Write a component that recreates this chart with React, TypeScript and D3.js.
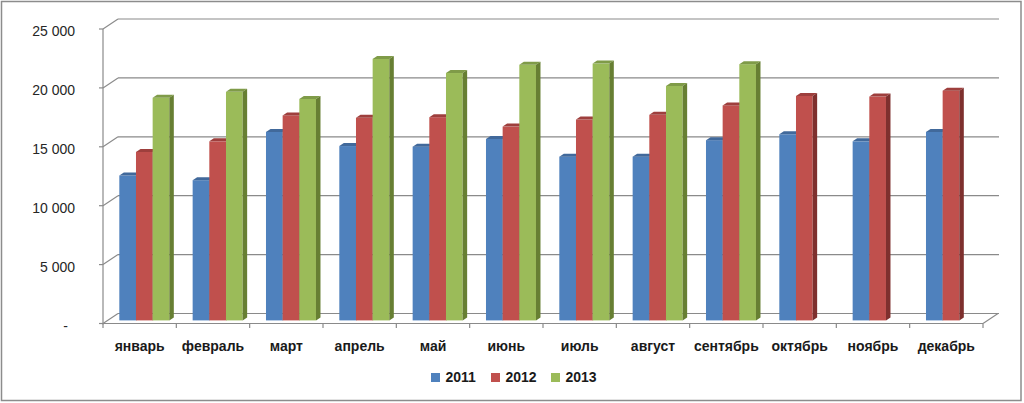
import React from "react";
import * as d3 from "d3";

const categories = ["январь", "февраль", "март", "апрель", "май", "июнь", "июль", "август", "сентябрь", "октябрь", "ноябрь", "декабрь"];
const seriesNames = ["2011", "2012", "2013"];
const values2011 = [12300, 11900, 16000, 14800, 14750, 15400, 13900, 13900, 15300, 15800, 15200, 16000];
const values2012 = [14300, 15200, 17400, 17200, 17250, 16450, 17050, 17450, 18250, 19050, 19000, 19500];
const values2013: (number | null)[] = [18900, 19400, 18800, 22200, 21000, 21700, 21800, 19900, 21750, null, null, null];
const yTicks = [0, 5000, 10000, 15000, 20000, 25000];

const frontColors = ["#4F81BD", "#C0504D", "#9BBB59"];
const topColors = ["#41699B", "#9E3F3D", "#7F9B48"];
const sideColors = ["#375D8B", "#7E302E", "#677F33"];

const W = 1024;
const H = 403;
const DX = 15; // depth offset x
const DY = -10; // depth offset y
const Z0 = 0.31;
const Z1 = 0.61;
const GRID = "#8a8a8a";
const FONT = "'Liberation Sans', Arial, sans-serif";

export default function App() {
  const allSeries = [values2011, values2012, values2013];
  const x = d3.scaleBand<string>().domain(categories).range([103, 983]).padding(0);
  const xs = d3.scaleBand<string>().domain(seriesNames).range([0, x.bandwidth()]).paddingInner(0).paddingOuter(0.7);
  const y = d3.scaleLinear().domain([0, 25000]).range([323.5, 29]);
  const fmt = (v: number) => (v === 0 ? "-" : d3.format(",")(v).replace(/,/g, " "));

  const bars: JSX.Element[] = [];
  categories.forEach((c, ci) => {
    allSeries.forEach((vals, si) => {
      const v = vals[ci];
      if (v == null) return;
      const x0 = (x(c) as number) + (xs(seriesNames[si]) as number) + Z0 * DX;
      const x1 = x0 + xs.bandwidth();
      const base = y(0) + Z0 * DY;
      const top = base - (y(0) - y(v));
      const ddx = (Z1 - Z0) * DX;
      const ddy = (Z1 - Z0) * DY;
      bars.push(
        <g key={`${ci}-${si}`}>
          <rect x={x0} y={top} width={x1 - x0} height={base - top} fill={frontColors[si]} />
          <polygon
            points={`${x0},${top} ${x1},${top} ${x1 + ddx},${top + ddy} ${x0 + ddx},${top + ddy}`}
            fill={topColors[si]}
          />
          <polygon
            points={`${x1},${top} ${x1 + ddx},${top + ddy} ${x1 + ddx},${base + ddy} ${x1},${base}`}
            fill={sideColors[si]}
          />
        </g>
      );
    });
  });

  return (
    <svg width={W} height={H} style={{ position: "absolute", left: 0, top: 0 }}>
      <rect x={0} y={0} width={W} height={H} fill="#fff" />
      <rect x={1.5} y={1.5} width={1019.5} height={399} fill="none" stroke="#8c8c8c" strokeWidth={1.5} />
      {/* back wall gridlines + left wall diagonals */}
      {yTicks.map((t) => (
        <g key={t}>
          <line x1={103 + DX} x2={983 + DX + 1} y1={y(t) + DY} y2={y(t) + DY} stroke={GRID} strokeWidth={1.2} />
          <line x1={103} x2={103 + DX} y1={y(t)} y2={y(t) + DY} stroke={GRID} strokeWidth={1.2} />
          <line x1={99} x2={103} y1={y(t)} y2={y(t)} stroke={GRID} strokeWidth={1.2} />
          <text
            x={t === 0 ? 68 : 75}
            y={y(t) + 7}
            textAnchor="end"
            fontFamily={FONT}
            fontSize={14}
            fill="#262626"
          >
            {fmt(t)}
          </text>
        </g>
      ))}
      {/* left axis */}
      <line x1={103} x2={103} y1={y(25000)} y2={y(0) + 1} stroke={GRID} strokeWidth={1.2} />
      {/* floor front & right edge */}
      <line x1={103} x2={983} y1={y(0)} y2={y(0)} stroke={GRID} strokeWidth={1.2} />
      <line x1={983} x2={983 + DX} y1={y(0)} y2={y(0) + DY} stroke={GRID} strokeWidth={1.2} />
      {categories.map((c, i) => (
        <line key={c} x1={(x(c) as number) + x.bandwidth()} x2={(x(c) as number) + x.bandwidth()} y1={y(0)} y2={y(0) + 4.5} stroke={GRID} strokeWidth={1.2} />
      ))}
      <line x1={103} x2={103} y1={y(0)} y2={y(0) + 4.5} stroke={GRID} strokeWidth={1.2} />
      {bars}
      {categories.map((c) => (
        <text
          key={c}
          x={(x(c) as number) + x.bandwidth() / 2}
          y={351}
          textAnchor="middle"
          fontFamily={FONT}
          fontWeight="bold"
          fontSize={14}
          fill="#1a1a1a"
        >
          {c}
        </text>
      ))}
      {seriesNames.map((s, i) => (
        <g key={s} transform={`translate(${431 + i * 60},373)`}>
          <rect x={0} y={0} width={9} height={9} fill={frontColors[i]} />
          <text x={14.5} y={8.8} fontFamily={FONT} fontWeight="bold" fontSize={14} fill="#1a1a1a">
            {s}
          </text>
        </g>
      ))}
    </svg>
  );
}
